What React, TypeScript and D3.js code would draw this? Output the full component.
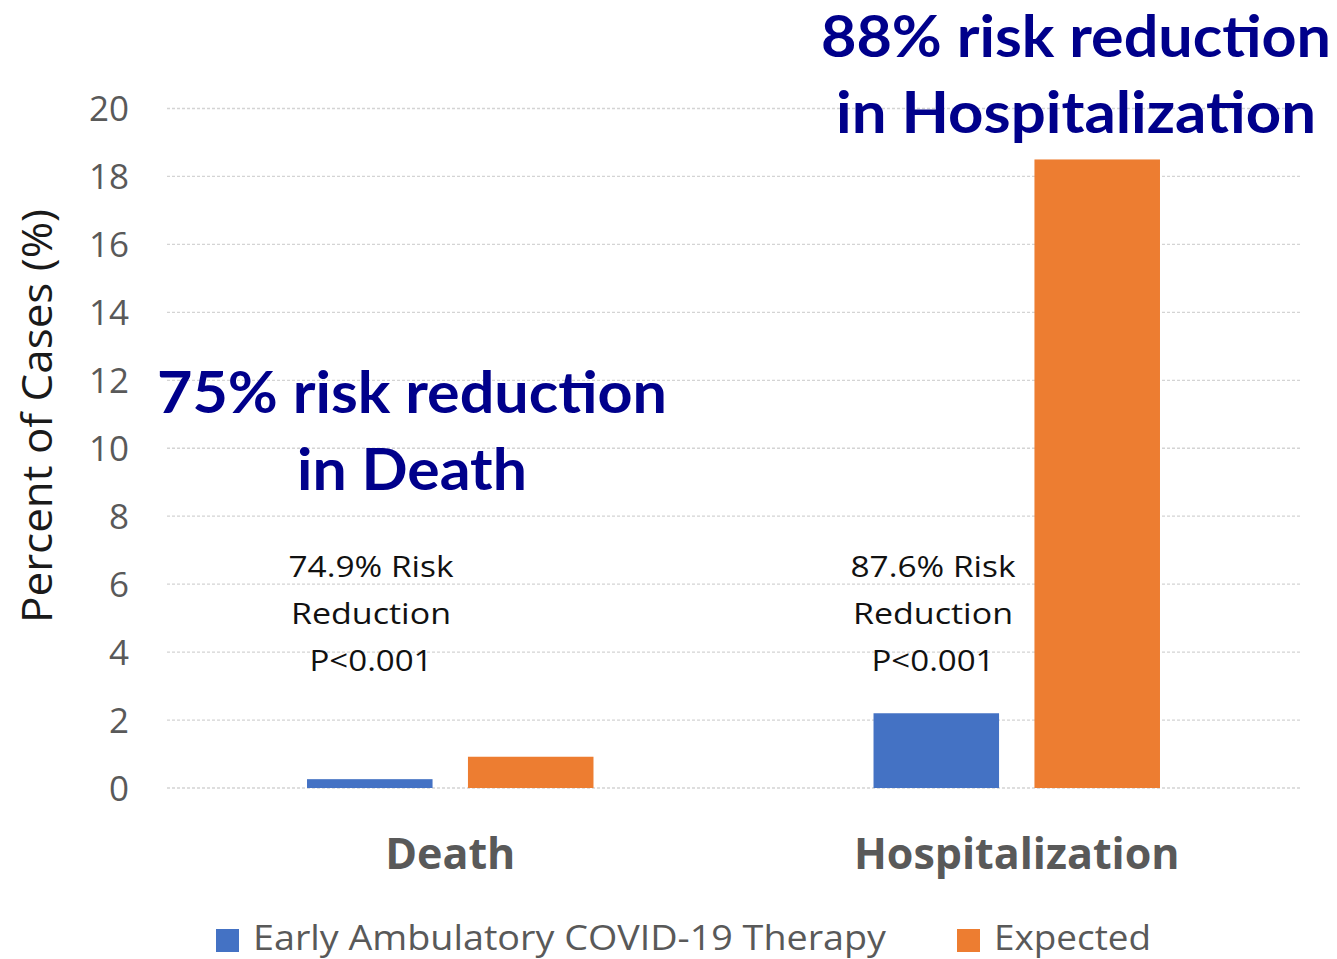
import React from "react";
import * as d3 from "d3";

const categories = ["Death", "Hospitalization"];
const seriesNames = ["Early Ambulatory COVID-19 Therapy", "Expected"];
const therapyValues = [0.26, 2.2];
const expectedValues = [0.92, 18.5];
const yTicks = [0, 2, 4, 6, 8, 10, 12, 14, 16, 18, 20];
const deathNote = ["74.9% Risk", "Reduction", "P<0.001"];
const hospNote = ["87.6% Risk", "Reduction", "P<0.001"];
const deathHeadline = ["75% risk reduction", "in Death"];
const hospHeadline = ["88% risk reduction", "in Hospitalization"];

const colors = ["#4472C4", "#ED7D31"];
const W = 1337;
const H = 959;

export default function App() {
  const x0 = d3.scaleBand<string>().domain(categories).range([167, 1300]).paddingInner(0).paddingOuter(0);
  const x1 = d3
    .scaleBand<string>()
    .domain(seriesNames)
    .range([0, x0.bandwidth()])
    .paddingInner(0.22)
    .paddingOuter(0.87);
  const y = d3.scaleLinear().domain([0, 20]).range([788, 108.5]);
  const values = [therapyValues, expectedValues];

  const navy = "#00008B";
  const gray = "#595959";

  const noteX = [371, 933];
  const notes = [deathNote, hospNote];
  const noteLens = [165, 160, 123];
  const deathHeadLens = [510, 230];
  const hospHeadLens = [510, 480];

  return (
    <svg width={W} height={H} style={{ position: "absolute", left: 0, top: 0, background: "#fff" }}>
      {yTicks.map((t) => (
        <g key={t}>
          <line x1={167} x2={1300} y1={y(t)} y2={y(t)} stroke="#d4d4d4" strokeWidth={1.3} strokeDasharray="3,2" />
          <text x={129} y={y(t)} dy="0.36em" textAnchor="end" fontFamily="Open Sans" fontSize={35} fill={gray}>
            {t}
          </text>
        </g>
      ))}
      {categories.map((c, i) => (
        <g key={c} transform={`translate(${x0(c)},0)`}>
          {seriesNames.map((s, j) => (
            <rect
              key={s}
              x={x1(s)}
              y={y(values[j][i])}
              width={x1.bandwidth()}
              height={y(0) - y(values[j][i])}
              fill={colors[j]}
            />
          ))}
          <text
            x={x0.bandwidth() / 2}
            y={869}
            textAnchor="middle"
            fontFamily="Open Sans"
            fontWeight={700}
            fontSize={43}
            fill={gray}
          >
            {c}
          </text>
        </g>
      ))}
      {notes.map((lines, i) =>
        lines.map((l, k) => (
          <text
            key={`${i}-${k}`}
            x={noteX[i]}
            y={577 + k * 47}
            textAnchor="middle"
            fontFamily="Open Sans"
            fontSize={30}
            fill="#111"
            textLength={noteLens[k]}
            lengthAdjust="spacingAndGlyphs"
          >
            {l}
          </text>
        ))
      )}
      {deathHeadline.map((l, k) => (
        <text
          key={l}
          x={412}
          y={413 + k * 77}
          textAnchor="middle"
          fontFamily="Lato"
          fontWeight={700}
          fontSize={57}
          fill={navy}
          textLength={deathHeadLens[k]}
          lengthAdjust="spacingAndGlyphs"
        >
          {l}
        </text>
      ))}
      {hospHeadline.map((l, k) => (
        <text
          key={l}
          x={1076}
          y={57 + k * 76}
          textAnchor="middle"
          fontFamily="Lato"
          fontWeight={700}
          fontSize={57}
          fill={navy}
          textLength={hospHeadLens[k]}
          lengthAdjust="spacingAndGlyphs"
        >
          {l}
        </text>
      ))}
      <text
        transform={`translate(52,416) rotate(-90)`}
        textAnchor="middle"
        fontFamily="Open Sans"
        fontSize={42}
        fill="#1a1a1a"
        textLength={414}
        lengthAdjust="spacingAndGlyphs"
      >
        Percent of Cases (%)
      </text>
      <g>
        <rect x={216} y={929} width={23} height={23} fill={colors[0]} />
        <text x={253} y={950} fontFamily="Open Sans" fontSize={34} fill={gray} textLength={633} lengthAdjust="spacingAndGlyphs">
          {seriesNames[0]}
        </text>
        <rect x={957} y={929} width={23} height={23} fill={colors[1]} />
        <text x={994} y={950} fontFamily="Open Sans" fontSize={34} fill={gray} textLength={157} lengthAdjust="spacingAndGlyphs">
          {seriesNames[1]}
        </text>
      </g>
    </svg>
  );
}
